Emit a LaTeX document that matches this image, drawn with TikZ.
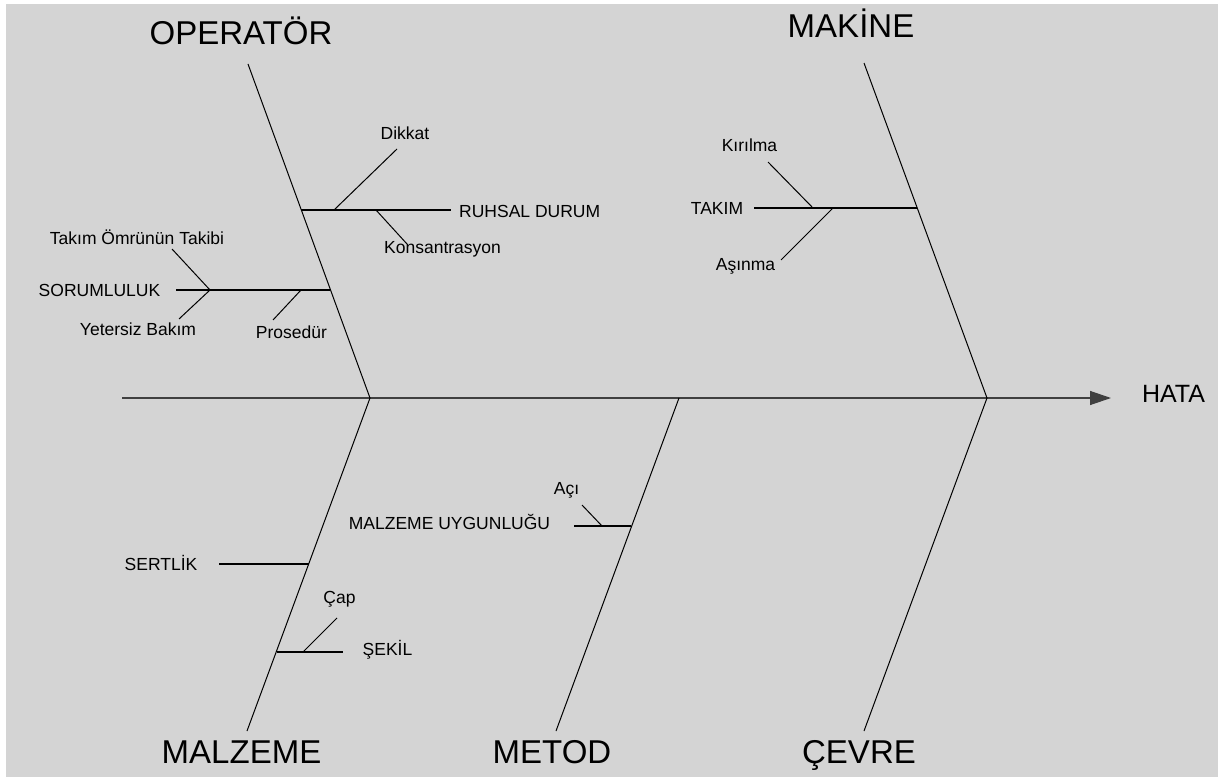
\documentclass[tikz,border=0pt]{standalone}
\usepackage{fontspec}
\setmainfont{Liberation Sans}
\usetikzlibrary{arrows.meta}
\definecolor{bggray}{RGB}{212,212,212}
\definecolor{spinegray}{RGB}{64,64,64}

\begin{document}
\begin{tikzpicture}[
    x=1pt, y=-1pt,
    every node/.style={inner sep=0pt, anchor=base},
    title/.style={font=\fontsize{33}{38}\selectfont},
    lbl/.style={font=\fontsize{17.5}{20}\selectfont},
    bone/.style={line width=1pt},
    twig/.style={line width=1.2pt}
]

\fill[white] (0,0) rectangle (1224,778);
\fill[bggray] (6,4) rectangle (1218,777);
\useasboundingbox (0,0) rectangle (1224,778);

% spine and main bones
\coordinate (tail) at (122,398);
\coordinate (tip) at (1111,398);
\coordinate (j1) at (370,398);
\coordinate (j2) at (679,398);
\coordinate (j3) at (987,398);
\coordinate (optop) at (248,64);
\coordinate (maktop) at (864,63);
\coordinate (malbot) at (247,731);
\coordinate (metbot) at (556,731);
\coordinate (cevbot) at (864,731);

\draw[spinegray, line width=1.3pt, -{Triangle[length=21pt,width=14pt]}] (tail) -- (tip);
\draw[bone] (optop) -- (j1) -- (malbot);
\draw[bone] (maktop) -- (j3) -- (cevbot);
\draw[bone] (j2) -- (metbot);

\node[title] (op) at (241,45) {OPERATÖR};
\node[title] (mak) at (851,38) {MAKİNE};
\node[title] (mal) at (241.5,763) {MALZEME};
\node[title] (met) at (552,763) {METOD};
\node[title] (cev) at (859,763) {ÇEVRE};
\node[font=\fontsize{25}{30}\selectfont] (hata) at (1173.5,402) {HATA};

% operator branches
\coordinate (b1) at (301,210);
\coordinate (b1e) at (451,210);
\coordinate (dk1) at (334,210);
\coordinate (dk2) at (397,149);
\coordinate (ks1) at (376,210);
\coordinate (ks2) at (407,244);
\draw[twig] (b1) -- (b1e);
\draw[bone] (dk1) -- (dk2);
\draw[bone] (ks1) -- (ks2);
\node[lbl] (dikkat) at (405,140) {Dikkat};
\node[lbl, anchor=base west] (ruhsal) at (459,218) {RUHSAL DURUM};
\node[lbl, anchor=base west] (kons) at (384,254) {Konsantrasyon};

\coordinate (b2) at (330,290);
\coordinate (b2e) at (176,290);
\coordinate (sr) at (210,290);
\coordinate (tk) at (172,249);
\coordinate (yb) at (179,319);
\coordinate (pr1) at (301,290);
\coordinate (pr2) at (273,320);
\draw[twig] (b2) -- (b2e);
\draw[bone] (tk) -- (sr) -- (yb);
\draw[bone] (pr1) -- (pr2);
\node[lbl] (takibi) at (137,245) {Takım Ömrünün Takibi};
\node[lbl] (soruml) at (99.5,297) {SORUMLULUK};
\node[lbl] (bakim) at (138,335) {Yetersiz Bakım};
\node[lbl] (prosed) at (291.5,338) {Prosedür};

% makine branches
\coordinate (b3) at (917,208);
\coordinate (b3e) at (754,208);
\coordinate (kr1) at (813,208);
\coordinate (kr2) at (768,162);
\coordinate (as1) at (833,208);
\coordinate (as2) at (781,260);
\draw[twig] (b3) -- (b3e);
\draw[bone] (kr1) -- (kr2);
\draw[bone] (as1) -- (as2);
\node[lbl] (kirilma) at (749.5,152) {Kırılma};
\node[lbl] (takim) at (717,215) {TAKIM};
\node[lbl] (asinma) at (745.5,270) {Aşınma};

% metod branch
\coordinate (b4) at (631,526);
\coordinate (b4e) at (574,526);
\coordinate (ac1) at (602,526);
\coordinate (ac2) at (582,505);
\draw[twig] (b4) -- (b4e);
\draw[bone] (ac1) -- (ac2);
\node[lbl] (uygun) at (449.5,529) {MALZEME UYGUNLUĞU};
\node[lbl] (aci) at (566.5,494) {Açı};

% malzeme branches
\coordinate (b5) at (309,564);
\coordinate (b5e) at (219,564);
\draw[twig] (b5) -- (b5e);
\node[lbl] (sertlik) at (161,570) {SERTLİK};

\coordinate (b6) at (277,652);
\coordinate (b6e) at (343,652);
\coordinate (cp1) at (303,652);
\coordinate (cp2) at (337,618);
\draw[twig] (b6) -- (b6e);
\draw[bone] (cp1) -- (cp2);
\node[lbl] (cap) at (339.5,603) {Çap};
\node[lbl] (sekil) at (387.5,655) {ŞEKİL};

\end{tikzpicture}
\end{document}
